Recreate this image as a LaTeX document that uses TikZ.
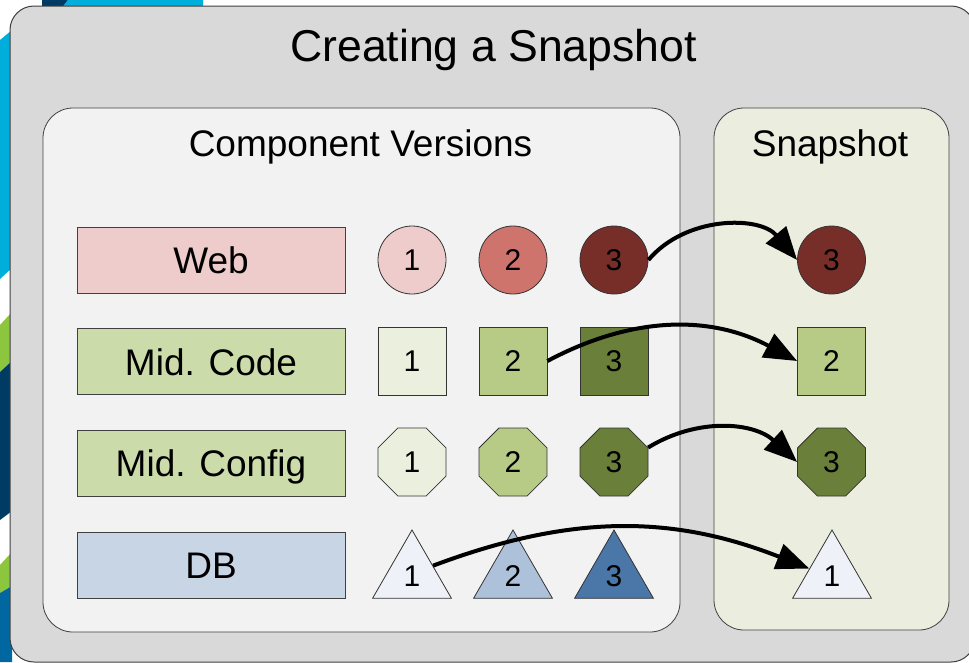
\documentclass[tikz,border=0pt]{standalone}
\usepackage{fontspec}
\setmainfont{Liberation Sans}
\usetikzlibrary{positioning,shapes.geometric,arrows.meta}

\definecolor{slidecyan}{HTML}{00AEDB}
\definecolor{slidenavy}{HTML}{003B64}
\definecolor{slidegreen}{HTML}{8CC63E}
\definecolor{slideblue}{HTML}{0067A0}
\definecolor{outergrey}{HTML}{D9D9D9}
\definecolor{compgrey}{HTML}{F2F2F2}
\definecolor{snapgreen}{HTML}{EBEEDE}
\definecolor{web1}{HTML}{EDCCCB}
\definecolor{web2}{HTML}{CF736D}
\definecolor{web3}{HTML}{772E28}
\definecolor{grn1}{HTML}{EBF0DE}
\definecolor{grn2}{HTML}{B7CB87}
\definecolor{grn3}{HTML}{6A7F3A}
\definecolor{db1}{HTML}{EEF1F7}
\definecolor{db2}{HTML}{ADC1DA}
\definecolor{db3}{HTML}{4A76A8}
\definecolor{rowgreen}{HTML}{CCDBAA}
\definecolor{rowblue}{HTML}{C8D5E5}

\tikzset{
	rowbox/.style={draw=black!75, line width=0.8pt, minimum width=268pt, minimum height=66pt,
		font=\fontsize{37}{40}\selectfont, text height=26.5pt, text depth=0pt},
	ver/.style={draw=black!80, line width=0.8pt, inner sep=0pt,
		font=\fontsize{30}{33}\selectfont, text height=21.5pt, text depth=0pt},
	ver circ/.style={ver, circle, minimum size=68pt},
	ver sq/.style={ver, rectangle, minimum size=68pt},
	ver oct/.style={ver, regular polygon, regular polygon sides=8, minimum size=73.6pt},
	ver tri/.style={ver, regular polygon, regular polygon sides=3, minimum size=91pt},
	pick/.style={-{Triangle[length=33pt,width=26pt]}, line width=4pt},
	boxtitle/.style={font=\fontsize{37}{40}\selectfont, anchor=base},
}

\begin{document}
\begin{tikzpicture}[x=1pt, y=-1pt]
	\clip (0,0) rectangle (969,662);
	\fill[white] (0,0) rectangle (969,662);
	% slide stripes behind the panel
	\fill[slidenavy] (42,0) -- (68,0) -- (62,8) -- (42,8) -- cycle;
	\fill[slidecyan] (68,0) -- (203,0) -- (203,8) -- (62,8) -- cycle;
	\fill[slidecyan] (0,40) -- (12,30) -- (12,268) -- (0,279) -- cycle;
	\fill[slidegreen] (0,325) -- (12,312) -- (12,361) -- (0,372) -- cycle;
	\fill[slidenavy] (0,372) -- (12,361) -- (12,511) -- (0,520) -- cycle;
	\fill[slidegreen] (0,565) -- (12,552) -- (12,586) -- (0,593) -- cycle;
	\fill[slideblue] (0,593) -- (12,586) -- (12,662) -- (0,662) -- cycle;

	\draw[rounded corners=24pt, fill=outergrey, draw=black!75, line width=1pt] (10,6) rectangle (975,662);
	\node[font=\fontsize{44.6}{50}\selectfont, anchor=base] (title) at (493.5,61) {Creating a Snapshot};

	\draw[rounded corners=30pt, fill=compgrey, draw=black!75, line width=0.8pt] (43,108) rectangle (680,632);
	\node[boxtitle] (comptitle) at (360.5,156) {Component Versions};
	\draw[rounded corners=30pt, fill=snapgreen, draw=black!75, line width=0.8pt] (714,108) rectangle (949,630);
	\node[boxtitle] (snaptitle) at (830,156) {Snapshot};

	\node[rowbox, fill=web1] (web) at (211,260) {Web};
	\node[rowbox, fill=rowgreen, below=35pt of web] (code) {Mid. Code};
	\node[rowbox, fill=rowgreen, below=35pt of code] (cfg) {Mid. Config};
	\node[rowbox, fill=rowblue, below=35pt of cfg] (db) {DB};

	\foreach \i/\x in {1/412,2/513,3/614} {
		\node[ver circ, fill=web\i] (web\i) at (\x,260) {\i};
		\node[ver sq, fill=grn\i] (code\i) at (\x,361) {\i};
		\node[ver oct, fill=grn\i] (cfg\i) at (\x,462) {\i};
		\node[ver tri, fill=db\i] (db\i) at (\x,575.5) {\i};
	}

	\node[ver circ, fill=web3] (snapweb) at (831.5,260) {3};
	\node[ver sq, fill=grn2] (snapcode) at (831.5,361) {2};
	\node[ver oct, fill=grn3] (snapcfg) at (831.5,462) {3};
	\node[ver tri, fill=db1] (snapdb) at (832,575.5) {1};

	\draw[pick] (web3.east) to[bend left=50] (snapweb.west);
	\draw[pick] (code2.east) to[bend left=28] (snapcode.west);
	\draw[pick] (cfg3.23) to[bend left=37] (snapcfg.west);
	\draw[pick] (db1.25) to[bend left=21] (snapdb.163);
\end{tikzpicture}
\end{document}
